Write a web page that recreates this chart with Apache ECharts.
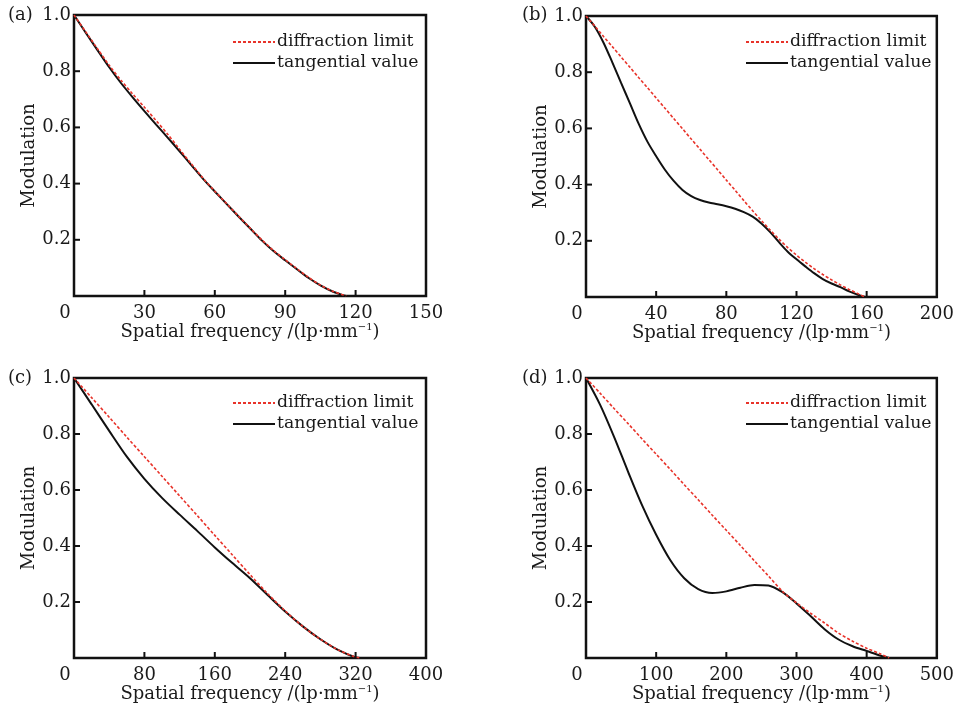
<!DOCTYPE html>
<html><head><meta charset="utf-8">
<script src="https://cdn.jsdelivr.net/npm/echarts@6/dist/echarts.min.js"></script>
<style>html,body{margin:0;padding:0;background:#fff}#c{width:957px;height:714px}</style>
</head><body><div id="c"></div>
<script>
// ---- data ----
const panelLabels = ['(a)', '(b)', '(c)', '(d)'];
const seriesNames = ['diffraction limit', 'tangential value'];
const yTicks = [0.2, 0.4, 0.6, 0.8, 1.0];

const xMaxA = 150, xStepA = 30, xTicksA = [30, 60, 90, 120];
const freqA = [0,5,10,15,20,25,30,35,40,45,50,55,60,65,70,75,80,85,90,95,100,105,110,115,116];
const diffA = [1.000,0.940,0.880,0.821,0.768,0.719,0.672,0.624,0.575,0.522,0.470,0.419,0.373,0.329,0.285,0.242,0.200,0.162,0.129,0.097,0.066,0.039,0.018,0.003,0.000];
const tangA = [1.000,0.937,0.875,0.814,0.758,0.707,0.658,0.610,0.563,0.515,0.466,0.417,0.372,0.328,0.284,0.241,0.198,0.160,0.127,0.095,0.064,0.038,0.017,0.002,0.000];

const xMaxB = 200, xStepB = 40, xTicksB = [40, 80, 120, 160];
const freqB = [0,5,10,15,20,25,30,35,40,45,50,55,60,65,70,75,80,85,90,95,100,105,110,115,120,125,130,135,140,145,150,155,159];
const diffB = [1.000,0.964,0.927,0.891,0.854,0.818,0.781,0.745,0.708,0.672,0.635,0.599,0.562,0.526,0.489,0.453,0.416,0.380,0.343,0.307,0.272,0.238,0.206,0.176,0.149,0.124,0.101,0.080,0.061,0.043,0.027,0.012,0.000];
const tangB = [1.000,0.962,0.905,0.835,0.762,0.690,0.617,0.553,0.501,0.453,0.413,0.381,0.359,0.345,0.336,0.330,0.323,0.314,0.302,0.286,0.262,0.231,0.195,0.161,0.134,0.109,0.085,0.064,0.048,0.035,0.020,0.008,0.000];

const xMaxC = 400, xStepC = 80, xTicksC = [80, 160, 240, 320];
const freqC = [0,20,40,60,80,100,120,140,160,180,200,220,240,260,280,300,320,325];
const diffC = [1.000,0.930,0.860,0.789,0.719,0.649,0.579,0.509,0.438,0.368,0.298,0.230,0.168,0.113,0.067,0.029,0.003,0.000];
const tangC = [1.000,0.906,0.811,0.719,0.640,0.572,0.512,0.454,0.395,0.339,0.285,0.225,0.166,0.113,0.067,0.029,0.002,0.000];

const xMaxD = 500, xStepD = 100, xTicksD = [100, 200, 300, 400];
const freqD = [0,20,40,60,80,100,120,140,160,180,200,220,240,260,280,300,320,340,360,380,400,420,432];
const diffD = [1.000,0.946,0.891,0.837,0.782,0.728,0.674,0.619,0.565,0.510,0.456,0.402,0.347,0.293,0.238,0.197,0.160,0.125,0.089,0.060,0.035,0.014,0.000];
const tangD = [1.000,0.905,0.790,0.665,0.545,0.440,0.350,0.285,0.246,0.232,0.238,0.251,0.261,0.259,0.235,0.195,0.150,0.103,0.066,0.042,0.025,0.008,0.000];

// ---- layout ----
const FONT = 'DejaVu Serif';
const TXT = '#1a1a1a';
const TICK = 6;
const panels = [
  {freq: freqA, diff: diffA, tang: tangA, xMax: xMaxA, step: xStepA, xt: xTicksA, left: 74, top: 15, h: 281, legTop: 32, legLeft: 232, labLeft: 8, labTop: 6},
  {freq: freqB, diff: diffB, tang: tangB, xMax: xMaxB, step: xStepB, xt: xTicksB, left: 586, top: 16, h: 281, legTop: 32, legLeft: 745, labLeft: 522, labTop: 6},
  {freq: freqC, diff: diffC, tang: tangC, xMax: xMaxC, step: xStepC, xt: xTicksC, left: 74, top: 378, h: 280, legTop: 393, legLeft: 232, labLeft: 8, labTop: 369},
  {freq: freqD, diff: diffD, tang: tangD, xMax: xMaxD, step: xStepD, xt: xTicksD, left: 586, top: 378, h: 280, legTop: 393, legLeft: 745, labLeft: 522, labTop: 369}
];

const option = {
  backgroundColor: '#fff',
  animation: false,
  textStyle: {fontFamily: FONT, color: TXT},
  title: [], grid: [], xAxis: [], yAxis: [], series: [], legend: []
};

// inward tick marks, placed through the axis scales (api.coord) at the tick values
function renderTick(params, api) {
  const v = api.value(0);
  const kind = api.value(1);
  const p = kind === 0 ? api.coord([v, 0]) : api.coord([0, v]);
  const shape = kind === 0
    ? {x1: p[0], y1: p[1], x2: p[0], y2: p[1] - TICK}
    : {x1: p[0], y1: p[1], x2: p[0] + TICK, y2: p[1]};
  return {type: 'line', shape: shape, style: {stroke: '#111', lineWidth: 2}};
}

panels.forEach((p, i) => {
  option.title.push({text: panelLabels[i], left: p.labLeft, top: p.labTop, padding: 0,
    textStyle: {fontFamily: FONT, fontSize: 18, fontWeight: 'normal', color: TXT}});
  option.grid.push({left: p.left, top: p.top, width: 352, height: p.h, show: true,
    borderColor: '#111', borderWidth: 2.5, backgroundColor: 'transparent', containLabel: false});
  option.xAxis.push({
    type: 'value', gridIndex: i, min: 0, max: p.xMax, interval: p.step,
    name: '{a|Spatial frequency /(lp·mm}{s|−1}{a|)}',
    nameLocation: 'middle', nameGap: 25,
    nameTextStyle: {fontFamily: FONT, color: TXT, verticalAlign: 'top',
      rich: {a: {fontFamily: FONT, fontSize: 18, color: TXT, verticalAlign: 'bottom'},
             s: {fontFamily: FONT, fontSize: 10, color: TXT, verticalAlign: 'bottom', padding: [0, 0, 8, 0]}}},
    axisLine: {show: false, onZero: false},
    axisTick: {show: false},
    splitLine: {show: false},
    axisLabel: {fontFamily: FONT, fontSize: 18, color: TXT, margin: 8,
      formatter: v => v === 0 ? '{z|0}' : String(v),
      rich: {z: {fontFamily: FONT, fontSize: 18, color: TXT, padding: [0, 18, 0, 0]}}}
  });
  option.yAxis.push({
    type: 'value', gridIndex: i, min: 0, max: 1, interval: 0.2,
    name: 'Modulation', nameLocation: 'middle', nameGap: 36,
    nameTextStyle: {fontFamily: FONT, fontSize: 18, color: TXT},
    axisLine: {show: false, onZero: false},
    axisTick: {show: false},
    splitLine: {show: false},
    axisLabel: {fontFamily: FONT, fontSize: 18, color: TXT, margin: 3, showMinLabel: false,
      formatter: v => yTicks.some(t => Math.abs(t - v) < 1e-9) ? v.toFixed(1) : ''}
  });
  option.series.push({
    name: seriesNames[0], type: 'line', xAxisIndex: i, yAxisIndex: i, smooth: 0.3,
    symbol: 'none', z: 3,
    data: p.freq.map((f, k) => [f, p.diff[k]]),
    lineStyle: {color: '#e8332a', width: 1.6, type: [3, 2]}, itemStyle: {color: '#e8332a'}
  });
  option.series.push({
    name: seriesNames[1], type: 'line', xAxisIndex: i, yAxisIndex: i, smooth: 0.3,
    symbol: 'none', z: 2,
    data: p.freq.map((f, k) => [f, p.tang[k]]),
    lineStyle: {color: '#111', width: 2}, itemStyle: {color: '#111'}
  });
  option.series.push({
    name: 'ticks' + i, type: 'custom', xAxisIndex: i, yAxisIndex: i, silent: true, z: 5,
    clip: false, renderItem: renderTick,
    data: p.xt.map(v => [v, 0]).concat(yTicks.filter(v => v < 1).map(v => [v, 1]))
  });
  option.legend.push({
    data: seriesNames, orient: 'vertical', left: p.legLeft, top: p.legTop,
    itemWidth: 42, itemHeight: 12, itemGap: 1, padding: 0, selectedMode: false,
    itemStyle: {opacity: 0, borderWidth: 0},
    textStyle: {fontFamily: FONT, fontSize: 17.3, color: TXT, lineHeight: 20, padding: [0, 0, 0, -3]}
  });
});

const chart = echarts.init(document.getElementById('c'), null, {renderer: 'canvas'});
chart.setOption(option);
</script></body></html>
